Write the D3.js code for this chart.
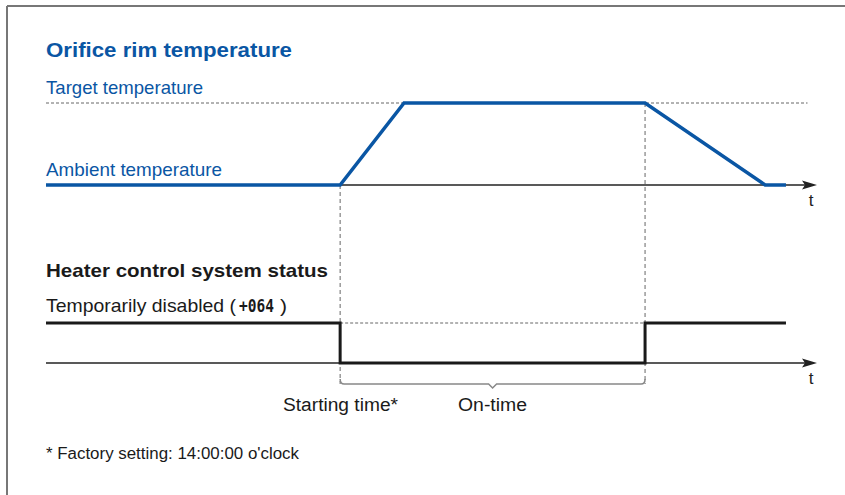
<!DOCTYPE html>
<html>
<head>
<meta charset="utf-8">
<script src="https://cdn.jsdelivr.net/npm/d3@7"></script>
<style>
  body { margin: 0; background: #fff; }
  svg { display: block; font-family: "Liberation Sans", Arial, sans-serif; }
</style>
</head>
<body>
<svg id="chart" viewBox="0 0 845 495" width="845" height="495"></svg>
<script>
// time runs 0..100 (arbitrary units) along both panels
const tempTimes = [0, 38.2, 46.5, 77.8, 93.4, 96.1];
const tempLevels = [0, 0, 1, 1, 0, 0]; // 0 = ambient, 1 = target
const heaterTimes = [0, 38.2, 38.2, 77.8, 77.8, 96.1];
const heaterLevels = [1, 1, 0, 0, 1, 1]; // 1 = temporarily disabled, 0 = heating
const startTime = 38.2;
const endTime = 77.8;
const axisEnd = 100;
const targetLineEnd = 98.9;

const labels = {
  title1: "Orifice rim temperature",
  target: "Target temperature",
  ambient: "Ambient temperature",
  title2: "Heater control system status",
  disabled: "Temporarily disabled (",
  code: "+064",
  close: ")",
  start: "Starting time*",
  ontime: "On-time",
  note: "* Factory setting: 14:00:00 o'clock"
};

const blue = "#0a56a4";
const svg = d3.select("#chart");

const x = d3.scaleLinear().domain([0, 100]).range([46, 816]);
const yTemp = d3.scaleLinear().domain([0, 1]).range([185, 103]);
const yHeat = d3.scaleLinear().domain([0, 1]).range([363, 323]);

// open frame: top and left edges
svg.append("line").attr("x1", 7).attr("x2", 845).attr("y1", 6).attr("y2", 6)
  .attr("stroke", "#777").attr("stroke-width", 2);
svg.append("line").attr("x1", 7).attr("x2", 7).attr("y1", 6).attr("y2", 495)
  .attr("stroke", "#777").attr("stroke-width", 2);

const dash = "#666";

// dashed guides
svg.append("line")
  .attr("x1", x(0)).attr("x2", x(targetLineEnd))
  .attr("y1", yTemp(1)).attr("y2", yTemp(1))
  .attr("stroke", dash).attr("stroke-width", 1).attr("stroke-dasharray", "3,2");
svg.append("line")
  .attr("x1", x(startTime)).attr("x2", x(endTime))
  .attr("y1", yHeat(1)).attr("y2", yHeat(1))
  .attr("stroke", dash).attr("stroke-width", 1).attr("stroke-dasharray", "3,2");
svg.append("line")
  .attr("x1", x(startTime)).attr("x2", x(startTime))
  .attr("y1", yTemp(0)).attr("y2", 384)
  .attr("stroke", dash).attr("stroke-width", 1).attr("stroke-dasharray", "4,3");
svg.append("line")
  .attr("x1", x(endTime)).attr("x2", x(endTime))
  .attr("y1", yTemp(1)).attr("y2", 384)
  .attr("stroke", dash).attr("stroke-width", 1).attr("stroke-dasharray", "4,3");

// time axes with arrowheads
function timeAxis(y0) {
  const tip = x(axisEnd) + 1;
  svg.append("line")
    .attr("x1", x(0)).attr("x2", tip - 12)
    .attr("y1", y0).attr("y2", y0)
    .attr("stroke", "#222").attr("stroke-width", 1.5);
  svg.append("path")
    .attr("d", `M${tip},${y0} L${tip - 15},${y0 - 4.5} L${tip - 12},${y0} L${tip - 15},${y0 + 4.5} Z`)
    .attr("fill", "#222");
  svg.append("text")
    .attr("x", tip - 6).attr("y", y0 + 21)
    .attr("text-anchor", "middle")
    .attr("font-size", 17).attr("fill", "#222")
    .text("t");
}
timeAxis(yTemp(0));
timeAxis(yHeat(0));

// temperature profile
const tempLine = d3.line().x((d) => x(d[0])).y((d) => yTemp(d[1]));
svg.append("path")
  .datum(d3.zip(tempTimes, tempLevels))
  .attr("d", tempLine)
  .attr("fill", "none").attr("stroke", blue).attr("stroke-width", 3.5)
  .attr("stroke-linejoin", "miter");

// heater status
const heatLine = d3.line().x((d) => x(d[0])).y((d) => yHeat(d[1]));
svg.append("path")
  .datum(d3.zip(heaterTimes, heaterLevels))
  .attr("d", heatLine)
  .attr("fill", "none").attr("stroke", "#1a1a1a").attr("stroke-width", 3)
  .attr("stroke-linejoin", "miter");

// on-time bracket
const bx0 = x(startTime), bx1 = x(endTime), bmid = (bx0 + bx1) / 2, by = 384;
svg.append("path")
  .attr("d", `M${bx0},${by - 5} Q${bx0},${by} ${bx0 + 4},${by} L${bmid - 4},${by} L${bmid},${by + 4} L${bmid + 4},${by} L${bx1 - 4},${by} Q${bx1},${by} ${bx1},${by - 5}`)
  .attr("fill", "none").attr("stroke", "#888").attr("stroke-width", 1.5);

// texts
function label(txt, px, py, size, width, opts = {}) {
  return svg.append("text")
    .attr("x", px).attr("y", py)
    .attr("font-size", size)
    .attr("font-weight", opts.bold ? "bold" : "normal")
    .attr("font-family", opts.family || null)
    .attr("fill", opts.color || "#1a1a1a")
    .attr("textLength", width)
    .attr("lengthAdjust", "spacingAndGlyphs")
    .text(txt);
}

label(labels.title1, 46, 57, 20, 246, { bold: true, color: blue });
label(labels.target, 46, 94, 19, 157, { color: blue });
label(labels.ambient, 46, 176, 19, 176, { color: blue });
label(labels.title2, 46, 277, 19, 282, { bold: true });

label(labels.disabled, 46, 312, 19, 190);
label(labels.code, 239, 312, 17, 35, { bold: true, family: "'DejaVu Sans Mono', monospace" });
label(labels.close, 280, 312, 19, 7);

label(labels.start, 283, 411, 18, 115);
label(labels.ontime, 458, 411, 18, 69);
label(labels.note, 46, 459, 16, 253);
</script>
</body>
</html>
